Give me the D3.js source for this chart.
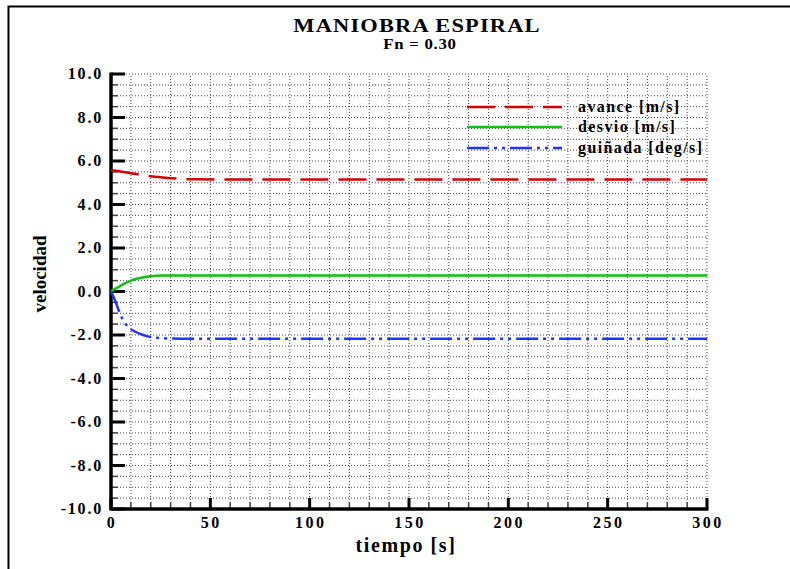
<!DOCTYPE html>
<html>
<head>
<meta charset="utf-8">
<script src="https://cdn.jsdelivr.net/npm/d3@7"></script>
<style>
  html, body { margin: 0; padding: 0; background: #fff; overflow: hidden; }
  svg { display: block; }
</style>
</head>
<body>
<svg id="chart" width="790" height="569"></svg>
<script>
// values
var tiempo  = [0, 2, 4, 6, 8, 10, 12, 15, 18, 20, 23, 26, 30, 35, 40, 60, 100, 150, 200, 250, 300];
var avance  = [5.58, 5.56, 5.53, 5.50, 5.47, 5.44, 5.41, 5.37, 5.33, 5.30, 5.27, 5.24, 5.21, 5.18, 5.16, 5.15, 5.15, 5.15, 5.15, 5.15, 5.15];
var desvio  = [0.00, 0.12, 0.22, 0.33, 0.42, 0.50, 0.56, 0.63, 0.68, 0.70, 0.72, 0.73, 0.73, 0.73, 0.73, 0.73, 0.73, 0.73, 0.73, 0.73, 0.73];
var guinada = [0.00, -0.40, -0.90, -1.30, -1.56, -1.73, -1.84, -1.96, -2.05, -2.09, -2.13, -2.15, -2.16, -2.17, -2.17, -2.17, -2.17, -2.17, -2.17, -2.17, -2.17];

var series = [
  { name: 'avance [m/s]',    values: avance,  color: '#d40000', dash: '28,10' },
  { name: 'desvio [m/s]',    values: desvio,  color: '#10c010', dash: null },
  { name: 'guiñada [deg/s]', values: guinada, color: '#2233ff', dash: '22,5,3,5,3,5' }
];

var xTicks = [0, 50, 100, 150, 200, 250, 300];
var yTicks = [-10, -8, -6, -4, -2, 0, 2, 4, 6, 8, 10];

var FONT = '"Liberation Serif", "Times New Roman", "DejaVu Serif", serif';

var svg = d3.select('#chart');

function label(sel) {
  return sel.attr('font-family', FONT).attr('font-weight', 'bold').attr('fill', '#000');
}

// outer frame
svg.append('rect')
  .attr('x', 8.5).attr('y', 6.5)
  .attr('width', 900).attr('height', 700)
  .attr('fill', 'none').attr('stroke', '#000').attr('stroke-width', 2);

var x = d3.scaleLinear().domain([0, 300]).range([111, 707]);
var y = d3.scaleLinear().domain([-10, 10]).range([509, 74]);

// dotted grid
var grid = svg.append('g');
grid.selectAll('line.gx')
  .data(d3.range(10, 301, 10))
  .enter().append('line')
  .attr('x1', function(d) { return x(d); }).attr('x2', function(d) { return x(d); })
  .attr('y1', y(-10)).attr('y2', y(10))
  .attr('stroke', '#444').attr('stroke-width', 1).attr('stroke-dasharray', '1,2');
grid.selectAll('line.gy')
  .data(d3.range(-9.5, 10.01, 0.5))
  .enter().append('line')
  .attr('x1', x(0)).attr('x2', x(300))
  .attr('y1', function(d) { return y(d); }).attr('y2', function(d) { return y(d); })
  .attr('stroke', '#444').attr('stroke-width', 1).attr('stroke-dasharray', '1,2');

// minor ticks (inside)
var ticks = svg.append('g');
ticks.selectAll('line.my')
  .data(d3.range(-10, 10.01, 0.5))
  .enter().append('line')
  .attr('x1', x(0)).attr('x2', x(0) + 7)
  .attr('y1', function(d) { return y(d); }).attr('y2', function(d) { return y(d); })
  .attr('stroke', '#444').attr('stroke-width', 1.5);
ticks.selectAll('line.mx')
  .data(d3.range(0, 301, 10))
  .enter().append('line')
  .attr('x1', function(d) { return x(d); }).attr('x2', function(d) { return x(d); })
  .attr('y1', y(-10)).attr('y2', y(-10) - 7)
  .attr('stroke', '#444').attr('stroke-width', 1.5);

// major ticks
ticks.selectAll('line.My')
  .data(yTicks)
  .enter().append('line')
  .attr('x1', x(0)).attr('x2', x(0) + 14)
  .attr('y1', function(d) { return y(d); }).attr('y2', function(d) { return y(d); })
  .attr('stroke', '#000').attr('stroke-width', 3);
ticks.selectAll('line.Mx')
  .data(xTicks)
  .enter().append('line')
  .attr('x1', function(d) { return x(d); }).attr('x2', function(d) { return x(d); })
  .attr('y1', y(-10)).attr('y2', y(-10) - 11)
  .attr('stroke', '#000').attr('stroke-width', 3);

// axis lines
svg.append('line')
  .attr('x1', x(0)).attr('x2', x(0)).attr('y1', y(10) - 1.5).attr('y2', y(-10) + 1.5)
  .attr('stroke', '#000').attr('stroke-width', 3.5);
svg.append('line')
  .attr('x1', x(0)).attr('x2', x(300) + 1.5).attr('y1', y(-10)).attr('y2', y(-10))
  .attr('stroke', '#000').attr('stroke-width', 3.5);

// tick labels (plain hyphen for negatives, as in the original)
var fmt = function(d) { return d3.format('.1f')(d).replace('\u2212', '-'); };
label(svg.selectAll('text.yl')
  .data(yTicks)
  .enter().append('text'))
  .attr('x', 103).attr('y', function(d) { return y(d) + 5; })
  .attr('text-anchor', 'end')
  .attr('font-size', 16).attr('letter-spacing', 1.8)
  .text(fmt);
label(svg.selectAll('text.xl')
  .data(xTicks)
  .enter().append('text'))
  .attr('x', function(d) { return x(d) + 1; }).attr('y', 528)
  .attr('text-anchor', 'middle')
  .attr('font-size', 16).attr('letter-spacing', 2.5)
  .text(function(d) { return d; });

// curves
var line = d3.line()
  .x(function(d, i) { return x(tiempo[i]); })
  .y(function(d) { return y(d); })
  .curve(d3.curveMonotoneX);

svg.selectAll('path.serie')
  .data(series)
  .enter().append('path')
  .attr('d', function(s) { return line(s.values); })
  .attr('fill', 'none')
  .attr('stroke', function(s) { return s.color; })
  .attr('stroke-width', 2.5)
  .attr('stroke-dasharray', function(s) { return s.dash; });

// legend
var legend = svg.append('g');
var rowsY = [107, 127, 148];
series.forEach(function(s, i) {
  legend.append('line')
    .attr('x1', 467).attr('x2', 562)
    .attr('y1', rowsY[i]).attr('y2', rowsY[i])
    .attr('stroke', s.color).attr('stroke-width', 2.5)
    .attr('stroke-dasharray', s.dash);
  label(legend.append('text'))
    .attr('x', 578).attr('y', rowsY[i] + 5)
    .attr('font-size', 16).attr('letter-spacing', 1.4)
    .text(s.name);
});

// titles (the original glyphs are wide, so stretch horizontally)
label(svg.append('text'))
  .attr('transform', 'translate(417,32) scale(1.18,1)')
  .attr('text-anchor', 'middle')
  .attr('font-size', 19).attr('letter-spacing', 1)
  .text('MANIOBRA ESPIRAL');
label(svg.append('text'))
  .attr('transform', 'translate(420,49) scale(1.2,1)')
  .attr('text-anchor', 'middle')
  .attr('font-size', 14).attr('letter-spacing', 0.6)
  .text('Fn = 0.30');
label(svg.append('text'))
  .attr('x', 406).attr('y', 552)
  .attr('text-anchor', 'middle')
  .attr('font-size', 20).attr('letter-spacing', 1.6)
  .text('tiempo [s]');
label(svg.append('text'))
  .attr('transform', 'translate(46,274) rotate(-90)')
  .attr('text-anchor', 'middle')
  .attr('font-size', 19)
  .text('velocidad');
</script>
</body>
</html>
